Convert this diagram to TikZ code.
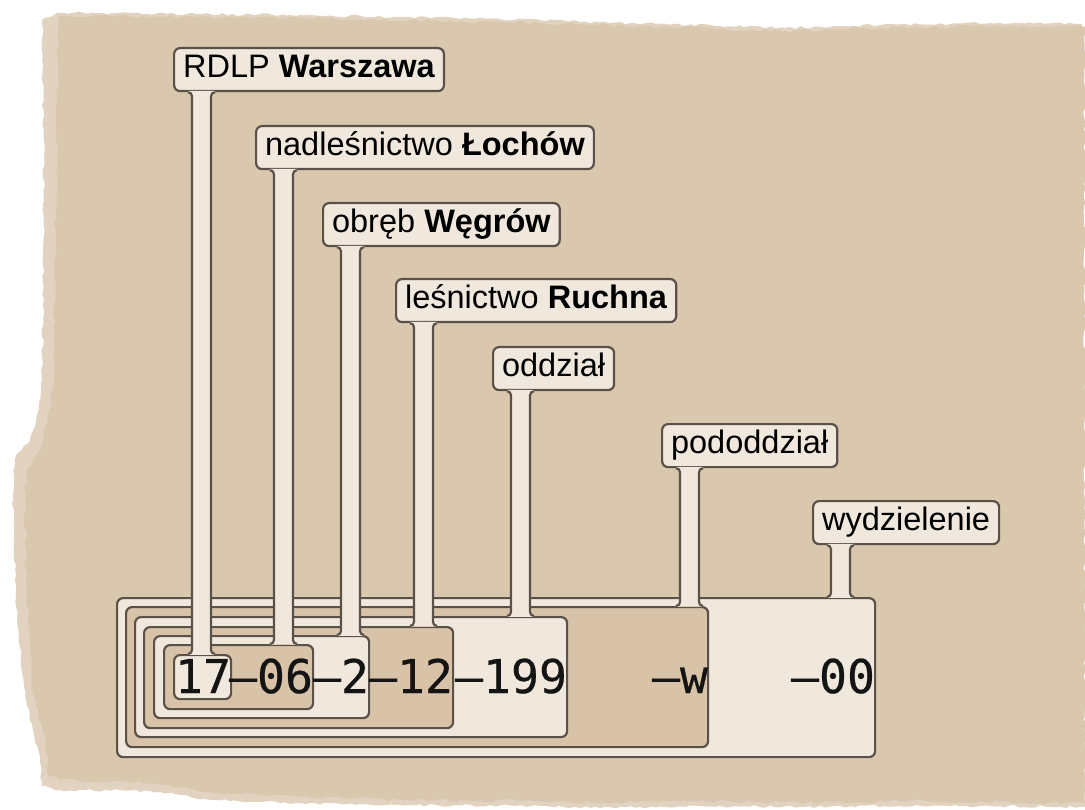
\documentclass[tikz,border=0pt]{standalone}
\usepackage{fontspec}
\setmainfont{Liberation Sans}
\newfontfamily\codefont{DejaVu Sans Mono}[FakeBold=0.5]
\usetikzlibrary{calc,decorations.pathmorphing}
\definecolor{paper}{HTML}{D9C7AE}
\definecolor{paperedge}{HTML}{E2D2C0}
\definecolor{lightfill}{HTML}{F0E8DC}
\definecolor{beigefill}{HTML}{D8C2A8}
\definecolor{ink}{HTML}{5A5249}
\def\fr{4}
\def\fk{2.2}
% stem from label #1 down to box #2 (box fill colour #3)
\newcommand\mystem[3]{%
  \coordinate (A) at ($(#1.south west)+(19,0)$);
  \coordinate (B) at ($(#1.south west)+(38,0)$);
  \coordinate (C) at (A |- #2.north);
  \coordinate (D) at (B |- #2.north);
  \fill[#3] ($(C)+(-\fr,0)$) rectangle ($(D)+(\fr,1.4)$);
  \fill[lightfill] ($(A)+(-\fr,-1.4)$) -- ($(A)+(-\fr,0)$)
    .. controls ($(A)+(-\fr+\fk,0)$) and ($(A)+(0,\fr-\fk)$) .. ($(A)+(0,\fr)$)
    -- ($(C)+(0,-\fr)$)
    .. controls ($(C)+(0,-\fr+\fk)$) and ($(C)+(-\fr+\fk,0)$) .. ($(C)+(-\fr,0)$)
    -- ($(D)+(\fr,0)$)
    .. controls ($(D)+(\fr-\fk,0)$) and ($(D)+(0,-\fr+\fk)$) .. ($(D)+(0,-\fr)$)
    -- ($(B)+(0,\fr)$)
    .. controls ($(B)+(0,\fr-\fk)$) and ($(B)+(\fr-\fk,0)$) .. ($(B)+(\fr,0)$)
    -- ($(B)+(\fr,-1.4)$) -- cycle;
  \draw[edge] ($(A)+(-\fr,0)$)
    .. controls ($(A)+(-\fr+\fk,0)$) and ($(A)+(0,\fr-\fk)$) .. ($(A)+(0,\fr)$)
    -- ($(C)+(0,-\fr)$)
    .. controls ($(C)+(0,-\fr+\fk)$) and ($(C)+(-\fr+\fk,0)$) .. ($(C)+(-\fr,0)$);
  \draw[edge] ($(B)+(\fr,0)$)
    .. controls ($(B)+(\fr-\fk,0)$) and ($(B)+(0,\fr-\fk)$) .. ($(B)+(0,\fr)$)
    -- ($(D)+(0,-\fr)$)
    .. controls ($(D)+(0,-\fr+\fk)$) and ($(D)+(\fr-\fk,0)$) .. ($(D)+(\fr,0)$);
}
\begin{document}
\begin{tikzpicture}[x=1pt,y=-1pt,
  edge/.style={draw=ink, line width=2.2pt},
  box/.style={edge, rounded corners=6pt, inner sep=0pt, anchor=north west},
  lab/.style={edge, rounded corners=6pt, fill=lightfill, anchor=north west,
    inner xsep=9pt, inner ysep=0pt, minimum height=43pt, font=\fontsize{32.5}{36}\selectfont,
    text height=23pt, text depth=7pt},
  code/.style={anchor=base east, inner sep=0pt, xshift=-1pt, text=black!92,
    font=\codefont\fontsize{46.5}{50}\selectfont}
]
\useasboundingbox (0,0) rectangle (1085,810);
\fill[white] (0,0) rectangle (1085,810);
% torn paper
\pgfmathsetseed{7}
\fill[paperedge, decorate, decoration={random steps, segment length=5pt, amplitude=1.3pt}]
  (57,13) -- (300,15) -- (500,19) -- (785,28) -- (880,25) -- (1000,23) -- (1082,24)
  -- (1084,400) -- (1085,807) -- (1000,806) -- (900,806) -- (800,807) -- (700,806) -- (600,808)
  -- (540,806) -- (400,805) -- (300,803) -- (210,800) -- (180,795) -- (150,791) -- (60,790) -- (42,786)
  -- (40,757) -- (33,730) -- (25,697) -- (20,647) -- (15,580) -- (13,500) -- (15,458) -- (30,440)
  -- (38,413) -- (42,380) -- (44,200) -- (42,20) -- cycle;
\pgfmathsetseed{11}
\fill[paper, decorate, decoration={random steps, segment length=6pt, amplitude=1.8pt}]
  (58,16) -- (300,18) -- (500,22) -- (785,31) -- (880,28) -- (1000,26) -- (1085,27)
  -- (1085,400) -- (1085,803) -- (1000,802) -- (900,801) -- (800,803) -- (700,801) -- (600,803)
  -- (540,801) -- (400,800) -- (300,797) -- (210,792) -- (180,787) -- (150,783) -- (60,780) -- (48,776)
  -- (48,757) -- (42,730) -- (34,697) -- (30,647) -- (26,580) -- (25,500) -- (27,470) -- (40,450)
  -- (48,413) -- (54,380) -- (56,200) -- (58,40) -- cycle;
% nested boxes
\foreach \n/\l/\t/\r/\b/\col in {7/116/597/874/756/lightfill, 6/125/606/707/746/beigefill,
  5/134/616/566/736/lightfill, 4/143/626/452/727/beigefill, 3/153/635/368/717/lightfill,
  2/163/644/312/708/beigefill, 1/173/654/230/698/lightfill}
  \node[box, fill=\col, minimum width=\r-\l, minimum height=\b-\t] (b\n) at (\l,\t) {};
% labels
\node[lab] (l1) at (173,47) {RDLP \textbf{Warszawa}};
\node[lab] (l2) at (255,125) {nadleśnictwo \textbf{Łochów}};
\node[lab] (l3) at (322,202) {obręb \textbf{Węgrów}};
\node[lab] (l4) at (395,278) {leśnictwo \textbf{Ruchna}};
\node[lab] (l5) at (492,346) {oddział};
\node[lab] (l6) at (661,423) {pododdział};
\node[lab] (l7) at (812,500) {wydzielenie};
% stems
\mystem{l7}{b7}{lightfill}
\mystem{l6}{b6}{beigefill}
\mystem{l5}{b5}{lightfill}
\mystem{l4}{b4}{beigefill}
\mystem{l3}{b3}{lightfill}
\mystem{l2}{b2}{beigefill}
\mystem{l1}{b1}{lightfill}
% code text
\coordinate (base) at (0,693);
\node[code] (t1) at (b1.east |- base) {17};
\node[code] (t2) at (b2.east |- base) {–06};
\node[code] (t3) at (b3.east |- base) {–2};
\node[code] (t4) at (b4.east |- base) {–12};
\node[code] (t5) at (b5.east |- base) {–199};
\node[code] (t6) at (b6.east |- base) {–w};
\node[code] (t7) at (b7.east |- base) {–00};
\end{tikzpicture}
\end{document}
